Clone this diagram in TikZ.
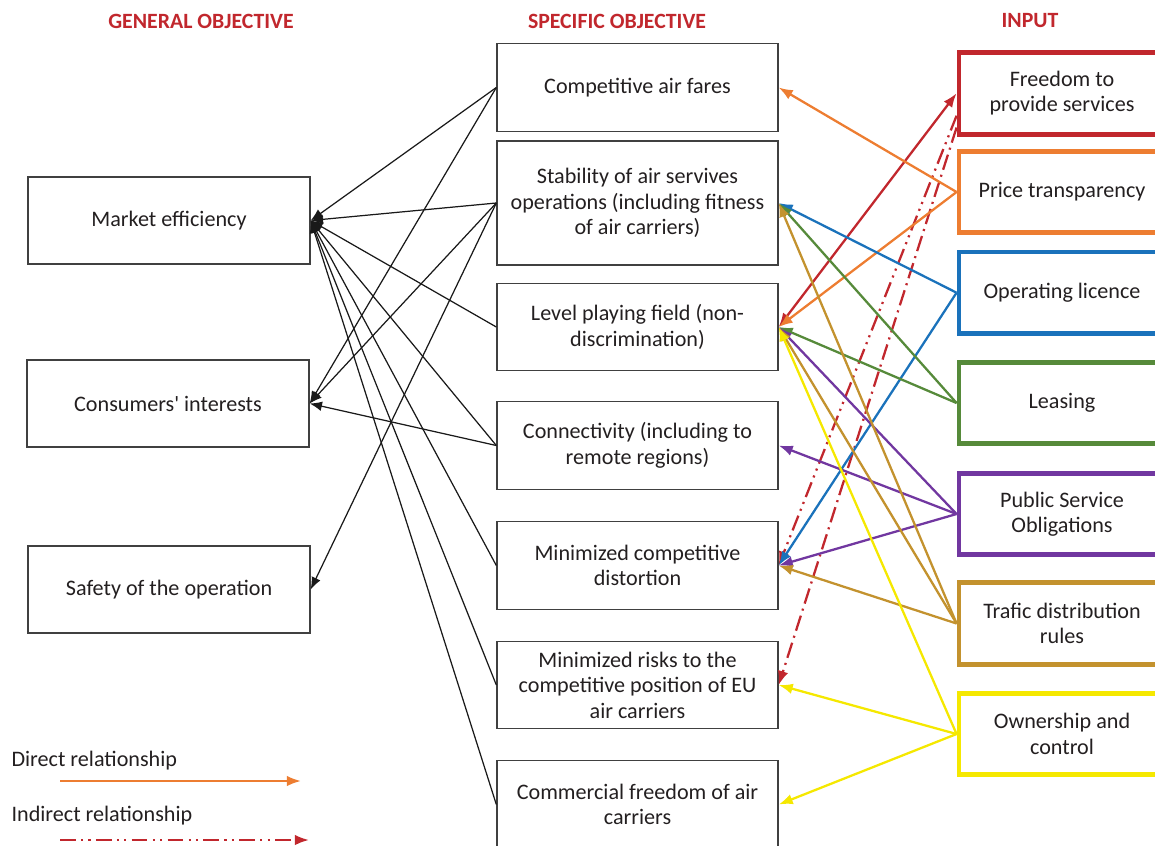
\documentclass[tikz,border=0pt]{standalone}
\usepackage{fontspec}
\setmainfont{Carlito}
\usetikzlibrary{arrows.meta}

\definecolor{hdred}{HTML}{C1272D}
\definecolor{txtgray}{HTML}{231F20}
\definecolor{inred}{HTML}{C1272D}
\definecolor{inorange}{HTML}{ED7D31}
\definecolor{inblue}{HTML}{1A72BB}
\definecolor{ingreen}{HTML}{568A3A}
\definecolor{inpurple}{HTML}{7137A0}
\definecolor{ingold}{HTML}{C3922E}
\definecolor{inyellow}{HTML}{F5E800}

\begin{document}
\begin{tikzpicture}[x=0.02cm, y=-0.02cm, >={Latex[length=8pt,width=6pt]},
	hd/.style={text=hdred, font=\bfseries\fontsize{12.4}{14}\selectfont},
	box/.style={draw=black!75, line width=0.8pt, align=center, text=txtgray, font=\fontsize{12.6}{14.5}\selectfont},
	goal/.style={box, minimum width=5.64cm, minimum height=1.74cm},
	spec/.style={box, minimum width=5.62cm, minimum height=1.75cm},
	inp/.style={box, draw=#1, line width=2.8pt, minimum width=4.12cm, minimum height=1.63cm},
	rel/.style={->, color=black!90, line width=0.7pt, >={Latex[length=7pt,width=5.5pt]}},
	direct/.style={->, color=#1, line width=1.3pt},
	indirect/.style={->, color=inred, line width=1.3pt, dash pattern=on 9pt off 3pt on 1.2pt off 3pt on 1.2pt off 3pt},
	indirectb/.style={->, color=inred, line width=1.3pt, dash pattern=on 9pt off 3pt on 1.2pt off 3pt}]
		\clip (0,0) rectangle (1155,845);

		% column headers
		\node [hd] (hgen) at (201,21) {GENERAL OBJECTIVE};
		\node [hd] (hspec) at (617,21) {SPECIFIC OBJECTIVE};
		\node [hd] (hinp) at (1030,21) {INPUT};

		% general objectives
		\node [goal] (me) at (169,220.5) {Market efficiency};
		\node [goal] (ci) at (168,403.5) {Consumers\textquotesingle{} interests};
		\node [goal] (saf) at (169,589.5) {Safety of the operation};

		% specific objectives
		\node [spec] (fares) at (637.5,87.5) {Competitive air fares};
		\node [spec, minimum height=2.48cm] (stab) at (637.5,203) {Stability of  air servives\\operations (including fitness\\of air carriers)};
		\node [spec] (lpf) at (637.5,327) {Level playing field (non-\\discrimination)};
		\node [spec] (conn) at (637.5,445.5) {Connectivity (including to\\remote regions)};
		\node [spec] (dist) at (637.5,565.5) {Minimized competitive\\distortion};
		\node [spec] (risk) at (637.5,685) {Minimized risks to the\\competitive position of EU\\air carriers};
		\node [spec] (comm) at (637.5,804.5) {Commercial freedom of air\\carriers};

		% inputs
		\node [inp=inred] (free) at (1062,93.3) {Freedom to\\provide services};
		\node [inp=inorange] (price) at (1062,192) {Price transparency};
		\node [inp=inblue] (lic) at (1062,292.7) {Operating licence};
		\node [inp=ingreen] (lease) at (1062,403) {Leasing};
		\node [inp=inpurple] (pso) at (1062,514) {Public Service\\Obligations};
		\node [inp=ingold] (traf) at (1062,623.5) {Trafic distribution\\rules};
		\node [inp=inyellow] (own) at (1062,734) {Ownership and\\control};

		% specific -> general
		\path[rel] (fares.west) edge (me.east);
		\path[rel] (fares.west) edge (ci.east);
		\path[rel] (stab.west) edge (me.east);
		\path[rel] (stab.west) edge (ci.east);
		\path[rel] (stab.west) edge (saf.east);
		\path[rel] (lpf.west) edge (me.east);
		\path[rel] (conn.west) edge (me.east);
		\path[rel] (conn.west) edge (ci.east);
		\path[rel] (dist.west) edge (me.east);
		\path[rel] (risk.west) edge (me.east);
		\path[rel] (comm.west) edge (me.east);

		% input -> specific
		\path[direct=inred, <->] (free.west) edge (lpf.east);
		\path[indirect] (free.192) edge (dist.east);
		\path[indirectb] (free.198) edge (risk.east);
		\path[direct=inorange] (price.west) edge (fares.east);
		\path[direct=inorange] (price.west) edge (lpf.east);
		\path[direct=inblue] (lic.west) edge (stab.east);
		\path[direct=inblue] (lic.west) edge (dist.east);
		\path[direct=ingreen] (lease.west) edge (stab.east);
		\path[direct=ingreen] (lease.west) edge (lpf.east);
		\path[direct=inpurple] (pso.west) edge (lpf.east);
		\path[direct=inpurple] (pso.west) edge (conn.east);
		\path[direct=inpurple] (pso.west) edge (dist.east);
		\path[direct=ingold] (traf.west) edge (stab.east);
		\path[direct=ingold] (traf.west) edge (lpf.east);
		\path[direct=ingold] (traf.west) edge (dist.east);
		\path[direct=inyellow] (own.west) edge (lpf.east);
		\path[direct=inyellow] (own.west) edge (risk.east);
		\path[direct=inyellow] (own.west) edge (comm.east);

		% legend
		\node [box, draw=none, anchor=west] (ldir) at (5,761) {Direct relationship};
		\node [box, draw=none, anchor=west] (lind) at (5,816) {Indirect relationship};
		\coordinate (dirA) at (60,781);
		\coordinate (dirB) at (301,781);
		\coordinate (indA) at (60,840);
		\coordinate (indB) at (309,840);
		\path[direct=inorange] (dirA) edge (dirB);
		\path[indirect] (indA) edge (indB);
	\end{tikzpicture}
\end{document}
